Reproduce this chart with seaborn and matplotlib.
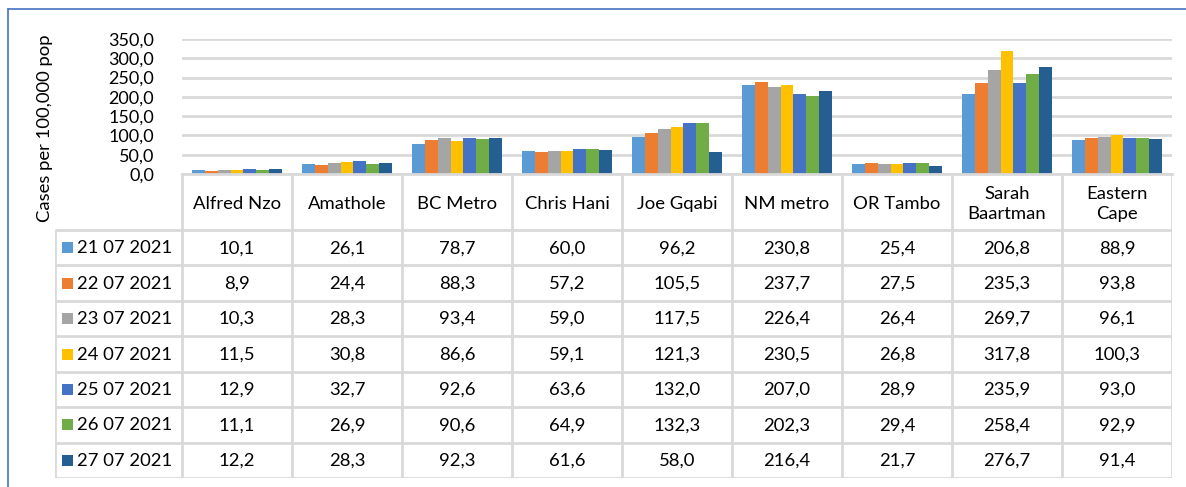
import numpy as np
import pandas as pd
import matplotlib
matplotlib.use("Agg")
import matplotlib.pyplot as plt
import seaborn as sns

# --- Data ---
districts = ["Alfred Nzo", "Amathole", "BC Metro", "Chris Hani", "Joe Gqabi",
             "NM metro", "OR Tambo", "Sarah Baartman", "Eastern Cape"]
header_labels = ["Alfred Nzo", "Amathole", "BC Metro", "Chris Hani", "Joe Gqabi",
                 "NM metro", "OR Tambo", "Sarah\nBaartman", "Eastern\nCape"]
dates = ["21 07 2021", "22 07 2021", "23 07 2021", "24 07 2021",
         "25 07 2021", "26 07 2021", "27 07 2021"]

d21 = [10.1, 26.1, 78.7, 60.0, 96.2, 230.8, 25.4, 206.8, 88.9]
d22 = [8.9, 24.4, 88.3, 57.2, 105.5, 237.7, 27.5, 235.3, 93.8]
d23 = [10.3, 28.3, 93.4, 59.0, 117.5, 226.4, 26.4, 269.7, 96.1]
d24 = [11.5, 30.8, 86.6, 59.1, 121.3, 230.5, 26.8, 317.8, 100.3]
d25 = [12.9, 32.7, 92.6, 63.6, 132.0, 207.0, 28.9, 235.9, 93.0]
d26 = [11.1, 26.9, 90.6, 64.9, 132.3, 202.3, 29.4, 258.4, 92.9]
d27 = [12.2, 28.3, 92.3, 61.6, 58.0, 216.4, 21.7, 276.7, 91.4]
series = [d21, d22, d23, d24, d25, d26, d27]

colors = ["#5B9BD5", "#ED7D31", "#A5A5A5", "#FFC000", "#4472C4", "#70AD47", "#255E91"]

rows = []
for date, vals in zip(dates, series):
    for dist, v in zip(districts, vals):
        rows.append({"district": dist, "date": date, "value": v})
df = pd.DataFrame(rows)

# --- Figure ---
sns.set_style("white")
plt.rcParams["font.family"] = ["Lato", "DejaVu Sans"]
W, H = 1186, 487
fig = plt.figure(figsize=(W / 100, H / 100), dpi=100)

def px_box(x0, y0, x1, y1):
    return [x0 / W, 1 - y1 / H, (x1 - x0) / W, (y1 - y0) / H]

grid_c = "#D9D9D9"
text_c = "#000000"
fs = 13.3

# chart area border (Excel blue)
fig.add_artist(plt.Line2D([8 / W, 8 / W], [0, 1 - 9 / H], color="#4472C4", lw=1.2))
fig.add_artist(plt.Line2D([8 / W, 1], [1 - 9 / H, 1 - 9 / H], color="#4472C4", lw=1.2))

# --- Bars ---
ax = fig.add_axes(px_box(182, 39, 1172, 174))
sns.barplot(data=df, x="district", y="value", hue="date", palette=colors,
            width=0.82, ax=ax, legend=False, saturation=1, edgecolor="none")
ax.set_xlim(-0.5, 8.5)
ax.set_ylim(0, 350)
ax.set_yticks(np.arange(0, 351, 50))
ax.set_yticklabels([f"{t:.1f}".replace(".", ",") for t in np.arange(0, 351, 50)],
                   fontsize=13, color=text_c)
ax.tick_params(axis="y", length=0, pad=20)
ax.set_xticks([])
ax.set_xlabel("")
ax.set_ylabel("")
ax.yaxis.grid(True, color=grid_c, lw=2)
ax.set_axisbelow(True)
for s in ["top", "right", "left"]:
    ax.spines[s].set_visible(False)
ax.spines["bottom"].set_color(grid_c)
ax.spines["bottom"].set_linewidth(2)

fig.text(45 / W, 1 - 128 / H, "Cases per 100,000 pop", rotation=90,
         ha="center", va="center", fontsize=fs, color=text_c)

# --- Data table ---
col_w = 110.0
left_w = (182 - 55) / col_w
tab = fig.add_axes(px_box(55, 174, 1172, 478))
tab.set_xlim(-0.5 - left_w, 8.5)
tab.set_ylim(304, 0)
tab.axis("off")
header_h = 56
row_h = (304 - header_h) / len(dates)

lw = 2
# vertical lines of category columns
for i in range(10):
    tab.plot([i - 0.5, i - 0.5], [0, 304], color=grid_c, lw=lw, solid_capstyle="butt")
# left legend column border
tab.plot([-0.5 - left_w, -0.5 - left_w], [header_h, 304], color=grid_c, lw=lw,
         solid_capstyle="butt")
# horizontal lines
for r in range(len(dates) + 1):
    y = header_h + r * row_h
    tab.plot([-0.5 - left_w, 8.5], [y, y], color=grid_c, lw=lw, solid_capstyle="butt")

for i, lab in enumerate(header_labels):
    tab.text(i, header_h / 2 + 2, lab, ha="center", va="center", fontsize=fs,
             color=text_c, linespacing=1.3)

key = 11 / col_w
for r, (date, vals, c) in enumerate(zip(dates, series, colors)):
    yc = header_h + (r + 0.5) * row_h
    kx = -0.5 - left_w + 7 / col_w
    tab.add_patch(plt.Rectangle((kx, yc - 5.5), key, 11, color=c, lw=0))
    tab.text(kx + key + 4 / col_w, yc + 0.5, date, ha="left", va="center",
             fontsize=fs, color=text_c)
    for i, v in enumerate(vals):
        tab.text(i, yc + 0.5, f"{v:.1f}".replace(".", ","), ha="center", va="center",
                 fontsize=fs, color=text_c)

fig.savefig("out.png", dpi=100)
